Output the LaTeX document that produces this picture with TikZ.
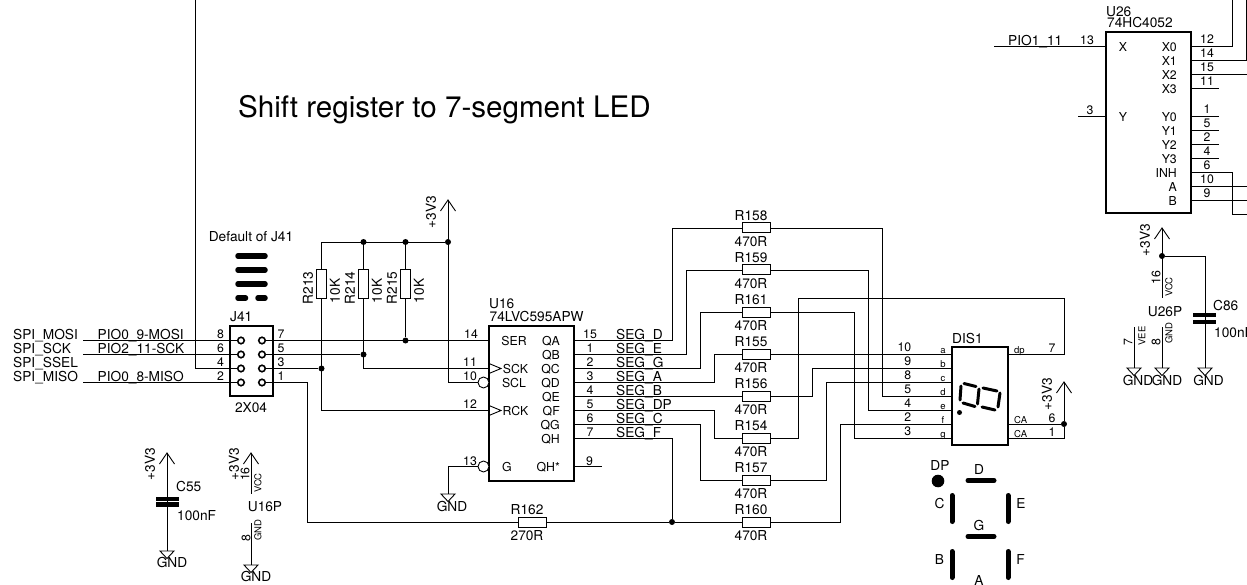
\documentclass[tikz,border=0pt]{standalone}
\usepackage{fontspec}
\setmainfont{TeX Gyre Heros}
\tikzset{
  x=1pt,y=-1pt,
  wire/.style={draw=black,line width=0.9pt},
  box/.style={draw=black,line width=2pt,inner sep=0pt,fill=none},
  res/.style={draw=black,line width=1pt,inner sep=0pt,minimum width=28pt,minimum height=10pt},
  resv/.style={draw=black,line width=1pt,inner sep=0pt,minimum width=10pt,minimum height=28pt},
  txt/.style={inner sep=0pt,font=\fontsize{13.7}{14}\selectfont,text height=9.9pt,text depth=0pt},
  pin/.style={inner sep=0pt,font=\fontsize{12.3}{13}\selectfont,text height=8.9pt,text depth=0pt},
  tiny/.style={inner sep=0pt,font=\fontsize{9.5}{10}\selectfont,text height=6.9pt,text depth=0pt},
  dot/.style={circle,fill=black,inner sep=0pt,minimum size=6pt},
  hole/.style={circle,draw=black,line width=1.6pt,fill=white,inner sep=0pt,minimum size=6.5pt},
  bubble/.style={circle,draw=black,line width=0.9pt,fill=white,inner sep=0pt,minimum size=11pt},
  bar/.style={line width=5.5pt,line cap=round},
  lbar/.style={line width=5pt,line cap=round},
  plate/.style={line width=4.5pt},
  seg/.style={line width=3pt,line cap=round},
}
\newcommand{\PwrUp}[2]{\draw[wire,line join=miter] (#1,#2) ++(-7.5,11) -- (#1,#2) -- ++(7.5,11);}
\newcommand{\PwrGnd}[2]{\draw[wire] (#1,#2) ++(-7,0) -- ++(14,0) -- ++(-7,7.5) -- cycle;}
\begin{document}
\begin{tikzpicture}
\clip (0,0) rectangle (1247,585);
\fill[white] (0,0) rectangle (1247,585);

% title
\node[inner sep=0pt,anchor=west,font=\fontsize{29.6}{30}\selectfont,text height=21.3pt,text depth=0pt] (title) at (238,107) {Shift register to 7-segment LED};

% ---------- J41
\node[box,minimum width=43pt,minimum height=70pt] (J41) at (251.5,361) {};
\foreach \n/\y in {8/340.5,6/354.5,4/368.5,2/382.5}{
  \node[hole] (p\n) at (241,\y) {};
  \node[pin] (pn\n) at (220.5,\y-6.5) {\n};
}
\foreach \n/\y in {7/340.5,5/354.5,3/368.5,1/382.5}{
  \node[hole] (p\n) at (262,\y) {};
  \node[pin] (pn\n) at (281,\y-6.5) {\n};
}
\node[txt,anchor=west] (J41name) at (230,317) {J41};
\node[txt] (J41val) at (251,408) {2X04};
\node[txt] (jdef) at (251,237) {Default of J41};
\coordinate (b1l) at (238,256); \coordinate (b1r) at (265,256);
\coordinate (b2l) at (238,270); \coordinate (b2r) at (265,270);
\coordinate (b3l) at (238,284); \coordinate (b3r) at (265,284);
\coordinate (b4l) at (238,298); \coordinate (b4m) at (245.5,298);
\coordinate (b4n) at (258,298); \coordinate (b4r) at (265,298);
\draw[bar] (b1l) -- (b1r); \draw[bar] (b2l) -- (b2r); \draw[bar] (b3l) -- (b3r);
\draw[bar] (b4l) -- (b4m); \draw[bar] (b4n) -- (b4r);

\coordinate (mosi) at (83,340.5);
\coordinate (sck) at (83,354.5);
\coordinate (miso) at (83,382.5);
\coordinate (top) at (195,0);
\node[txt,anchor=west] (l1) at (13,335) {SPI\_MOSI};
\node[txt,anchor=west] (l2) at (13,349) {SPI\_SCK};
\node[txt,anchor=west] (l3) at (13,363) {SPI\_SSEL};
\node[txt,anchor=west] (l4) at (13,377) {SPI\_MISO};
\node[txt,anchor=west] (n1) at (97.5,335) {PIO0\_9-MOSI};
\node[txt,anchor=west] (n2) at (97.5,349) {PIO2\_11-SCK};
\node[txt,anchor=west] (n3) at (97.5,377) {PIO0\_8-MISO};
\draw[wire] (mosi) -- (p8);
\draw[wire] (sck) -- (p6);
\draw[wire] (miso) -- (p2);
\draw[wire] (top) |- (p4);

% ---------- pull-ups
\node[resv] (R213) at (321.5,284) {};
\node[resv] (R214) at (363.5,284) {};
\node[resv] (R215) at (405.5,284) {};
\node[txt,rotate=90] (R213n) at (308,288) {R213};
\node[txt,rotate=90] (R213v) at (335,291) {10K};
\node[txt,rotate=90] (R214n) at (350,288) {R214};
\node[txt,rotate=90] (R214v) at (377,291) {10K};
\node[txt,rotate=90] (R215n) at (392,288) {R215};
\node[txt,rotate=90] (R215v) at (419,291) {10K};
\node[dot] (j1) at (363.5,242) {};
\node[dot] (j2) at (405.5,242) {};
\node[dot] (j3) at (448,242) {};
\node[dot] (j4) at (405.5,340.5) {};
\node[dot] (j5) at (363.5,354.5) {};
\node[dot] (j6) at (321.5,368.5) {};
\coordinate (vcc1) at (448,200);
\PwrUp{448}{200}
\node[txt,rotate=90] (v1) at (431,212) {+3V3};

% ---------- U16
\node[box,minimum width=85pt,minimum height=154.5pt] (U16) at (531.5,403.5) {};
\node[txt,anchor=west] (U16n) at (489,304) {U16};
\node[txt,anchor=west] (U16v) at (489.5,317) {74LVC595APW};
\foreach \t/\i/\nn in {QA/0/15,QB/1/1,QC/2/2,QD/3/3,QE/4/4,QF/5/5,QG/6/6,QH/7/7}{
  \coordinate (\t) at (574,340+14*\i);
  \node[pin,anchor=east] (t\t) at (560,341+14*\i) {\t};
  \node[pin] (n\t) at (590+0*\i,334+14*\i) {\nn};
}
\node[pin,anchor=east] (tQHs) at (560,467) {QH*};
\node[pin] (n9) at (589.5,461) {9};
\coordinate (qhs) at (574,466.5); \coordinate (qhe) at (602,466.5);
\draw[wire] (qhs) -- (qhe);
\node[pin] (tSER) at (514,341) {SER};
\node[pin] (tSCK) at (515.5,369) {SCK};
\node[pin] (tSCL) at (514,383) {SCL};
\node[pin] (tRCK) at (515.5,411) {RCK};
\node[pin] (tG) at (507,467) {G};
\node[pin] (n14) at (471,334) {14};
\node[pin] (n11) at (470,362) {11};
\node[pin] (n10) at (470,376) {10};
\node[pin] (n12) at (470,404) {12};
\node[pin] (n13) at (470,461) {13};
\coordinate (ser) at (489,340.5);
\coordinate (sckp) at (489,368.5);
\coordinate (rck) at (489,410.5);
\node[bubble] (scl) at (483.5,382.5) {};
\node[bubble] (gp) at (483.5,466.5) {};
\draw[wire] (489,363.5) -- (501,368.5) -- (489,373.5);
\draw[wire] (489,405.5) -- (501,410.5) -- (489,415.5);

\draw[wire] (p7) -- (ser);
\draw[wire] (p5) -- (j5);
\draw[wire] (p3) -- (j6);
\node[res] (R162) at (532,522) {};
\draw[wire] (p1) -| (307,522) -- (R162.west);
\draw[wire] (R213.north) |- (j3);
\draw[wire] (R214.north) -- (j1);
\draw[wire] (R215.north) -- (j2);
\draw[wire] (R213.south) |- (rck);
\draw[wire] (R214.south) |- (sckp);
\draw[wire] (R215.south) -- (j4);
\draw[wire] (vcc1) |- (scl.west);
\draw[wire] (gp.west) -| (448,494) coordinate (g1);
\PwrGnd{448}{494}
\node[txt] (g1t) at (452,507) {GND};

% ---------- resistors
\foreach \nm/\y in {R158/228,R159/270,R161/312,R155/354,R156/396,R154/438,R157/480,R160/522}{
  \node[res] (\nm) at (756,\y) {};
  \node[txt] (\nm n) at (751,\y-12) {\nm};
  \node[txt] (\nm v) at (751,\y+14) {470R};
}
\node[txt] (R162n) at (527,510) {R162};
\node[txt] (R162v) at (527,536) {270R};
\node[dot] (j7) at (672,522) {};
\draw[wire] (R162.east) -- (j7) -- (R160.west);

\foreach \s/\i in {D/0,E/1,G/2,A/3,B/4,DP/5,C/6,F/7}{
  \node[txt,anchor=west] (s\s) at (616,334.5+14*\i) {SEG\_\s};
}

\draw[wire] (QA) -| (672.5,228) -- (R158.west);
\draw[wire] (QB) -| (686,270) -- (R159.west);
\draw[wire] (QC) -| (700,312) -- (R161.west);
\draw[wire] (QD) -| (714,354) -- (R155.west);
\draw[wire] (QE) -- (R156.west);
\draw[wire] (QF) -| (714,438) -- (R154.west);
\draw[wire] (QG) -| (700,480) -- (R157.west);
\draw[wire] (QH) -| (j7);

% ---------- DIS1
\node[box,minimum width=56pt,minimum height=98pt] (DIS1) at (980,396) {};
\node[txt,anchor=west] (DIS1n) at (952,339) {DIS1};
\foreach \l/\n/\y in {a/10/354,b/9/368,c/8/382,d/5/396,e/4/410,f/2/424,g/3/438}{
  \coordinate (d\l) at (952,\y);
  \node[pin,anchor=east] (dn\l) at (911.5,\y-6.5) {\n};
  \node[tiny] (dl\l) at (943,\y-4) {\l};
}
\coordinate (ddp) at (1008,354);
\coordinate (dca1) at (1008,424);
\coordinate (dca2) at (1008,438);
\node[tiny,anchor=west] (tdp) at (1014,350) {dp};
\node[tiny,anchor=west] (tca1) at (1014,420) {CA};
\node[tiny,anchor=west] (tca2) at (1014,434) {CA};
\node[pin] (n7d) at (1052,348) {7};
\node[pin] (n6d) at (1052,418) {6};
\node[pin] (n1d) at (1052,432) {1};
\draw[wire] (R155.east) -- (da);
\draw[wire] (R156.east) -| (812,368) -- (db);
\draw[wire] (R157.east) -| (826,382) -- (dc);
\draw[wire] (R158.east) -| (882,396) -- (dd);
\draw[wire] (R159.east) -| (868,410) -- (de);
\draw[wire] (R161.east) -| (854,438) -- (dg);
\draw[wire] (R160.east) -| (840,424) -- (df);
\draw[wire] (R154.east) -| (798,298) -| (1064,354) -- (ddp);
\node[dot] (j8) at (1064,424) {};
\coordinate (vcc2) at (1064,382);
\PwrUp{1064}{382}
\draw[wire] (vcc2) -- (j8) -- (1064,438) -- (dca2);
\draw[wire] (j8) -- (dca1);
\node[txt,rotate=90] (v2) at (1047,394) {+3V3};

% digit glyph
\draw[seg] (964,383.5) -- (976,386.5);
\draw[seg] (961,386) -- (960,400);
\draw[seg] (963,403) -- (975,406.5);
\draw[seg] (979,389) -- (977.5,404);
\draw[seg] (983,388) -- (997,391);
\draw[seg] (1000,393) -- (998,407);
\draw[seg] (982,407) -- (995,410);
\fill (959.5,412.5) circle (2.5);

% legend
\fill (938,481) circle (6.3);
\node[txt] (lDP) at (940,466) {DP};
\node[txt] (lD) at (979,470) {D};
\node[txt] (lC) at (939.5,504) {C};
\node[txt] (lE) at (1021,504) {E};
\node[txt] (lG) at (979,526) {G};
\node[txt] (lB) at (939.5,560) {B};
\node[txt] (lF) at (1020.5,560) {F};
\node[txt] (lA) at (979,581) {A};
\draw[lbar] (968,480.5) -- (994,480.5);
\draw[lbar] (968,536.5) -- (994,536.5);
\draw[lbar] (952,495.5) -- (952,521.5);
\draw[lbar] (1008,495.5) -- (1008,521.5);
\draw[lbar] (952,551.5) -- (952,577.5);
\draw[lbar] (1008,551.5) -- (1008,577.5);

% ---------- C55 / U16P
\coordinate (vc55) at (167,453); \PwrUp{167}{453}
\node[txt,rotate=90] (v3) at (150,464) {+3V3};
\coordinate (gc55) at (167,551); \PwrGnd{167}{551}
\draw[wire] (vc55) -- (gc55);
\draw[plate] (156,499) -- (179,499);
\draw[plate] (156,504.5) -- (179,504.5);
\node[txt,anchor=west] (C55) at (176,487) {C55};
\node[txt,anchor=west] (C55v) at (177,516) {100nF};
\node[txt] (g2) at (172,563) {GND};

\coordinate (vu16) at (251,453); \PwrUp{251}{453}
\coordinate (vu16e) at (251,494);
\draw[wire] (vu16) -- (vu16e);
\node[txt,rotate=90] (v4) at (234,464) {+3V3};
\node[pin,rotate=90] (n16a) at (245,474) {16};
\node[tiny,rotate=90] (vcca) at (258,483) {VCC};
\node[txt] (U16P) at (265,507) {U16P};
\coordinate (gu16s) at (251,523); \coordinate (gu16) at (251,565);
\draw[wire] (gu16s) -- (gu16); \PwrGnd{251}{565}
\node[pin,rotate=90] (n8a) at (246,538) {8};
\node[tiny,rotate=90] (gnda) at (258,530) {GND};
\node[txt] (g3) at (256,577) {GND};

% ---------- U26
\node[box,minimum width=85pt,minimum height=181pt] (U26) at (1148.5,122.5) {};
\node[txt,anchor=west] (U26n) at (1106,12) {U26};
\node[txt,anchor=west] (U26v) at (1107,23) {74HC4052};
\foreach \t/\n/\y in {X0/12/46,X1/14/60,X2/15/74,X3/11/88,Y0/1/116,Y1/5/130,Y2/2/144,Y3/4/158,INH/6/172,A/10/186,B/9/200}{
  \coordinate (u\t) at (1191,\y);
  \node[pin,anchor=east] (ut\t) at (1177,\y+1) {\t};
  \node[pin] (un\t) at (1207,\y-6.5) {\n};
}
\node[pin] (tX) at (1123,47) {X};
\node[pin] (tY) at (1123,117) {Y};
\node[pin] (n13u) at (1087,40) {13};
\node[pin] (n3u) at (1090,110) {3};
\node[txt,anchor=west] (pio1) at (1008,41) {PIO1\_11};
\coordinate (xs) at (994,46); \coordinate (xe) at (1106,46);
\coordinate (ys) at (1078,116); \coordinate (ye) at (1106,116);
\draw[wire] (xs) -- (xe);
\draw[wire] (ys) -- (ye);
\draw[wire] (uX0) -| (1232,0);
\draw[wire] (uX1) -| (1246.5,0);
\draw[wire] (uX2) -- (1247,74);
\foreach \t/\y in {X3/88,Y0/116,Y1/130,Y2/144,Y3/158}{\draw[wire] (u\t) -- (1219,\y);}
\draw[wire] (uINH) -| (1232,214) -- (1247,214);
\draw[wire] (uA) -- (1247,186);
\draw[wire] (uB) -- (1247,200);

% ---------- U26P / C86
\coordinate (vu26) at (1162,228); \PwrUp{1162}{228}
\node[txt,rotate=90] (v5) at (1145,240) {+3V3};
\node[dot] (j9) at (1162,256) {};
\coordinate (vu26e) at (1162,298);
\draw[wire] (vu26) -- (vu26e);
\coordinate (gc86) at (1205,368); \PwrGnd{1205}{368}
\draw[wire] (j9) -| (gc86);
\draw[plate] (1193,315) -- (1216,315);
\draw[plate] (1193,322) -- (1216,322);
\node[txt,anchor=west] (C86) at (1213,306) {C86};
\node[txt,anchor=west] (C86v) at (1214,333) {100nF};
\node[txt] (g6) at (1208.5,381) {GND};
\node[pin,rotate=90] (n16b) at (1156,278) {16};
\node[tiny,rotate=90] (vccb) at (1169,287) {VCC};
\node[txt] (U26P) at (1165,312) {U26P};
\coordinate (vees) at (1134,327); \coordinate (veeg) at (1134,368);
\coordinate (gnds) at (1162,327); \coordinate (gndg) at (1162,368);
\draw[wire] (vees) -- (veeg); \PwrGnd{1134}{368}
\draw[wire] (gnds) -- (gndg); \PwrGnd{1162}{368}
\node[pin,rotate=90] (n7b) at (1128,342) {7};
\node[tiny,rotate=90] (veeb) at (1142,336) {VEE};
\node[pin,rotate=90] (n8b) at (1156,342) {8};
\node[tiny,rotate=90] (gndb) at (1169,333) {GND};
\node[txt] (g4) at (1138,381) {GND};
\node[txt] (g5) at (1167,381) {GND};
\end{tikzpicture}
\end{document}
